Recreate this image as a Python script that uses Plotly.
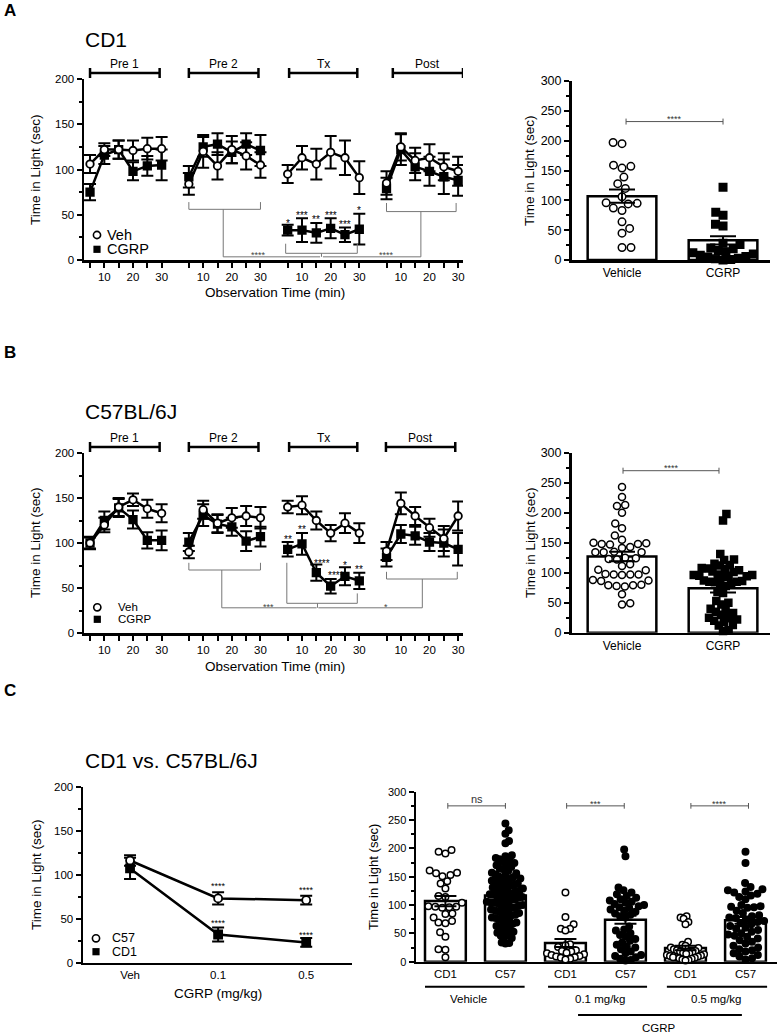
import math
import plotly.graph_objects as go

W, H = 777, 1034
FONT = "Liberation Sans, Arial, Helvetica, sans-serif"

# ------------------------------------------------------------------ data
MINUTES = [5, 10, 15, 20, 25, 30]
PHASES = ["Pre 1", "Pre 2", "Tx", "Post"]
TIME_TICKS = ["", "10", "", "20", "", "30"]

# Panel A  (CD1) - 4 phases x 6 time bins
A_VEH = [106, 122, 122, 121, 123, 123, 84, 120, 104, 122, 115, 105,
         95, 113, 106, 119, 113, 91, 85, 125, 110, 113, 103, 98]
A_VEH_SEM = [10, 7, 10, 11, 12, 13, 12, 18, 15, 15, 15, 14,
             10, 13, 17, 18, 19, 18, 13, 15, 14, 15, 15, 16]
A_CGRP = [75, 116, 122, 98, 104, 105, 92, 125, 128, 119, 128, 121,
          33, 33, 30, 35, 28, 34, 79, 122, 103, 98, 92, 88]
A_CGRP_SEM = [9, 10, 10, 10, 11, 17, 12, 11, 12, 12, 12, 17,
              6, 13, 11, 11, 8, 17, 12, 17, 15, 16, 19, 17]
A_TX_STARS = ["*", "***", "**", "***", "***", "*"]
A_TX_STAR_Y = [44, 52, 48, 52, 42, 58]

# Panel B  (C57BL/6J)
B_VEH = [100, 120, 140, 148, 138, 133, 90, 137, 122, 128, 130, 128,
         140, 142, 125, 111, 122, 111, 91, 144, 130, 117, 105, 130]
B_VEH_SEM = [6, 8, 10, 7, 10, 10, 7, 10, 10, 11, 11, 12,
             7, 10, 10, 9, 11, 11, 10, 12, 10, 10, 14, 16]
B_CGRP = [100, 125, 139, 126, 103, 103, 101, 131, 121, 118, 102, 107,
          93, 99, 67, 52, 63, 58, 84, 110, 108, 101, 100, 93]
B_CGRP_SEM = [7, 10, 10, 10, 9, 11, 10, 12, 10, 10, 11, 11,
              8, 12, 9, 8, 10, 9, 10, 10, 10, 10, 15, 18]
B_TX_STARS = ["**", "**", "****", "****", "*", "**"]
B_TX_STAR_Y = [107, 118, 81, 67, 78, 74]

# Panel C left (dose response)
DOSES = ["Veh", "0.1", "0.5"]
C57_DOSE = [116, 73, 71]
C57_DOSE_SEM = [6, 7, 5]
CD1_DOSE = [107, 32, 23]
CD1_DOSE_SEM = [12, 8, 5]
C57_DOSE_STARS = ["", "****", "****"]
C57_DOSE_STAR_Y = [0, 90, 86]
CD1_DOSE_STARS = ["", "****", "****"]
CD1_DOSE_STAR_Y = [0, 49, 35]

# Panel A right (per-animal Tx totals, CD1)
AR_GROUPS = ["Vehicle", "CGRP"]
AR_MEAN = [107, 33]
AR_SEM = [11, 7]
AR_VEH_PTS = [197, 195, 159, 154, 157, 139, 128, 120, 106, 95, 87, 83, 94,
              96, 64, 53, 45, 21, 21]
AR_CGRP_PTS = [122, 80, 75, 60, 57, 28, 26, 20, 19, 16, 14, 12, 10, 8, 6,
               5, 3, 2, 1, 0]

# Panel B right (C57BL/6J)
BR_GROUPS = ["Vehicle", "CGRP"]
BR_MEAN = [127, 74]
BR_SEM = [8, 7]
BR_VEH_PTS = [243, 226, 213, 211, 200, 182, 174, 162, 155, 150, 148, 147,
              148, 149, 143, 141, 135, 134, 134, 134, 125, 124, 123, 122,
              114, 111, 105, 104, 98, 97, 97, 96, 97, 88, 87, 86, 80, 79,
              78, 77, 79, 64, 47, 49]
BR_CGRP_PTS = [198, 187, 131, 122, 121, 115, 113, 112, 108, 107, 106, 104,
               102, 101, 97, 96, 96, 95, 95, 94, 93, 87, 86, 85, 85, 84, 82,
               80, 78, 68, 66, 53, 50, 47, 40, 38, 35, 33, 30, 25, 24, 22,
               20, 18, 13, 12, 4, 3]

# Panel C right (strain x dose)
CR_LABELS = ["CD1", "C57", "CD1", "C57", "CD1", "C57"]
CR_MEAN = [107, 117, 33, 74, 24, 73]
CR_SEM = [9, 4, 7, 7, 4, 6]
CR_CD1_VEH = [197, 194, 191, 161, 157, 156, 153, 151, 142, 138, 129, 116,
              114, 104, 98, 97, 97, 96, 95, 85, 84, 78, 72, 69, 68, 52, 44,
              22, 21, 8]
CR_C57_VEH = [244, 232, 226, 213, 209, 188, 186, 183, 181, 179, 176, 174,
              171, 170, 167, 164, 163, 160, 157, 156, 154, 152, 150, 149,
              147, 146, 144, 143, 141, 140, 138, 136, 135, 134, 132, 131,
              129, 128, 127, 125, 124, 123, 121, 120, 119, 118, 116, 115,
              114, 113, 111, 110, 109, 108, 106, 105, 104, 103, 101, 100,
              99, 98, 96, 95, 94, 92, 91, 89, 88, 86, 85, 83, 82, 80, 78,
              77, 75, 73, 71, 69, 67, 65, 63, 61, 59, 56, 53, 51, 48, 46,
              44, 42, 34, 33, 32]
CR_CD1_01 = [122, 79, 66, 58, 58, 55, 31, 29, 26, 20, 19, 18, 16, 15, 13,
             12, 10, 9, 8, 7, 5, 4]
CR_C57_01 = [198, 186, 131, 126, 122, 119, 116, 113, 110, 108, 106, 104,
             102, 100, 98, 96, 95, 92, 90, 88, 85, 83, 80, 78, 62, 57, 55,
             50, 47, 45, 40, 37, 34, 30, 27, 25, 22, 18, 15, 12, 10, 8, 5,
             3, 2]
CR_CD1_05 = [80, 78, 76, 70, 66, 35, 30, 28, 25, 24, 22, 20, 19, 18, 17,
             16, 15, 14, 13, 12, 11, 10, 9, 8, 8, 7, 6, 5, 4, 3, 2]
CR_C57_05 = [194, 174, 139, 132, 128, 126, 124, 122, 120, 117, 114, 110,
             100, 98, 97, 96, 95, 90, 86, 82, 80, 78, 77, 75, 72, 70, 68,
             66, 63, 60, 58, 56, 53, 50, 48, 46, 44, 41, 38, 35, 32, 28, 25,
             22, 20, 18, 15, 12, 9, 6, 4]
CR_SIG = ["ns", "***", "****"]

# ------------------------------------------------------------------ layout helpers
PHASE_GAP = 34.5   # spacing of phases on the time axis (minutes)


def tx(phase, minute):
    return phase * PHASE_GAP + minute


def PX(x):
    return x / W


def PY(y):
    return 1 - y / H


def dom_x(a, b):
    return [a / W, b / W]


def dom_y(top, bottom):
    return [1 - bottom / H, 1 - top / H]


def swarm(vals, px_per_y, px_per_x, d, limit):
    """Greedy beeswarm: returns x offsets (category units), squeezed to +-limit."""
    placed = []
    out = [0.0] * len(vals)
    order = sorted(range(len(vals)), key=lambda i: vals[i])
    flip = 1
    for i in order:
        y = vals[i] * px_per_y
        near = [(px, py) for px, py in placed if abs(py - y) < d]
        cands = [0.0]
        for px, py in near:
            dx = math.sqrt(max(d * d - (py - y) ** 2, 0))
            cands += [px - dx, px + dx]
        cands.sort(key=lambda c: (round(abs(c), 3), c * flip))
        flip = -flip
        for c in cands:
            if all((c - px) ** 2 + (py - y) ** 2 >= d * d - 1e-6 for px, py in near):
                out[i] = c / px_per_x
                placed.append((c, y))
                break
    m = max(abs(o) for o in out) or 1
    if m > limit:
        out = [o * limit / m for o in out]
    return out


fig = go.Figure()
shapes = []
anns = []

BLACK = "black"
GRAY = "#777777"


def ann(text, x, y, xref="paper", yref="paper", size=11, xanchor="center",
        yanchor="middle", color=BLACK, yshift=0, textangle=0, bold=False):
    if bold:
        text = "<b>" + text + "</b>"
    anns.append(dict(text=text, x=x, y=y, xref=xref, yref=yref, showarrow=False,
                     xanchor=xanchor, yanchor=yanchor, yshift=yshift,
                     textangle=textangle,
                     font=dict(family=FONT, size=size, color=color)))


def line(x0, y0, x1, y1, xref, yref, color=BLACK, width=1):
    shapes.append(dict(type="line", x0=x0, y0=y0, x1=x1, y1=y1, xref=xref,
                       yref=yref, line=dict(color=color, width=width)))


# ------------------------------------------------------------------ time-course panels
def time_panel(xa, ya, veh, veh_sem, cgrp, cgrp_sem):
    for vals in (veh, cgrp):
        xs, ys = [], []
        for p in range(4):
            for k, m in enumerate(MINUTES):
                xs.append(tx(p, m))
                ys.append(vals[p * 6 + k])
            xs.append(None)
            ys.append(None)
        fig.add_trace(go.Scatter(x=xs, y=ys, mode="lines", xaxis=xa, yaxis=ya,
                                 line=dict(color=BLACK, width=2.5),
                                 showlegend=False, hoverinfo="skip"))
    for vals, sem, sym, fill in [(cgrp, cgrp_sem, "square", "black"),
                                 (veh, veh_sem, "circle", "white")]:
        xs = [tx(p, m) for p in range(4) for m in MINUTES]
        fig.add_trace(go.Scatter(
            x=xs, y=vals, mode="markers", xaxis=xa, yaxis=ya, cliponaxis=False,
            marker=dict(symbol=sym, size=7.5, color=fill,
                        line=dict(color=BLACK, width=1.8)),
            error_y=dict(type="data", array=sem, color=BLACK, thickness=2,
                         width=6),
            showlegend=False, hoverinfo="skip"))


time_panel("x", "y", A_VEH, A_VEH_SEM, A_CGRP, A_CGRP_SEM)
time_panel("x2", "y2", B_VEH, B_VEH_SEM, B_CGRP, B_CGRP_SEM)

# phase header brackets
for xr, yr, hpx, spans in [
        ("x", "y domain", 181, [(5, 29.3), (5, 29.3), (5.5, 29.3), (7.2, 31.7)]),
        ("x2", "y2 domain", 180, [(5, 29.3), (5, 29.3), (5.5, 29.3), (4.8, 29.0)])]:
    yb = 1 + 6 / hpx
    cap = 5 / hpx
    for p, (s, e) in enumerate(spans):
        x0, x1 = tx(p, s), tx(p, e)
        line(x0, yb, x1, yb, xr, yr, BLACK, 2.5)
        line(x0, yb - cap, x0, yb + cap, xr, yr, BLACK, 2.5)
        line(x1, yb - cap, x1, yb + cap, xr, yr, BLACK, 2.5)
        ann(PHASES[p], (x0 + x1) / 2, 1 + 15 / hpx, xr, yr, size=12)

# stars above Tx CGRP points
for k in range(6):
    ann(A_TX_STARS[k], tx(2, MINUTES[k]), A_TX_STAR_Y[k], "x", "y", size=10, yshift=-3)
    ann(B_TX_STARS[k], tx(2, MINUTES[k]) + (2 if k in (2, 3) else 0),
        B_TX_STAR_Y[k], "x2", "y2", size=10, yshift=-3)

# comparison brackets, panel A
g = tx
for seg_ in [
        ((1, 5), 56, (1, 30), 56), ((1, 5), 56, (1, 5), 64), ((1, 30), 56, (1, 30), 64),
        ((1, 17), 56, (1, 17), 3.5), ((1, 17), 3.5, (2, 16.3), 3.5),
        ((2, 4.3), 7.4, (2, 29.3), 7.4), ((2, 4.3), 7.4, (2, 4.3), 18),
        ((2, 29.3), 7.4, (2, 29.3), 18), ((2, 16.8), 7.4, (2, 16.8), 3.5),
        ((3, 5), 53.5, (3, 29.3), 53.5), ((3, 5), 53.5, (3, 5), 63),
        ((3, 29.3), 53.5, (3, 29.3), 63), ((3, 17), 53.5, (3, 17), 3.5),
        ((2, 17.3), 3.5, (3, 17), 3.5)]:
    (p0, m0), y0, (p1, m1), y1 = seg_
    line(g(p0, m0), y0, g(p1, m1), y1, "x", "y", GRAY, 1)
ann("****", g(1, 29.3), 9, "x", "y", size=9, color="#444", yshift=-3)
ann("****", g(3, 5), 9, "x", "y", size=9, color="#444", yshift=-3)

# comparison brackets, panel B
for seg_ in [
        ((1, 5), 70, (1, 30), 70), ((1, 5), 70, (1, 5), 78), ((1, 30), 70, (1, 30), 78),
        ((1, 16.5), 70, (1, 16.5), 28), ((1, 16.5), 28, (2, 15.1), 28),
        ((2, 4.7), 33, (2, 29.3), 33), ((2, 4.7), 33, (2, 4.7), 78),
        ((2, 29.3), 33, (2, 29.3), 44), ((2, 15.4), 33, (2, 15.4), 28),
        ((3, 5), 60, (3, 29.7), 60), ((3, 5), 60, (3, 5), 68),
        ((3, 29.7), 60, (3, 29.7), 68), ((3, 17.5), 60, (3, 17.5), 28),
        ((2, 15.7), 28, (3, 17.5), 28)]:
    (p0, m0), y0, (p1, m1), y1 = seg_
    line(g(p0, m0), y0, g(p1, m1), y1, "x2", "y2", GRAY, 1)
ann("***", g(1, 32.8), 32, "x2", "y2", size=9, color="#444", yshift=-3)
ann("*", g(3, 4.9), 32, "x2", "y2", size=9, color="#444", yshift=-3)

# ------------------------------------------------------------------ dose panel (C left)
for vals, sem, sym, fill in [(CD1_DOSE, CD1_DOSE_SEM, "square", "black"),
                             (C57_DOSE, C57_DOSE_SEM, "circle", "white")]:
    fig.add_trace(go.Scatter(
        x=[0, 1, 2], y=vals, mode="lines+markers", xaxis="x3", yaxis="y3",
        cliponaxis=False, line=dict(color=BLACK, width=2.5),
        marker=dict(symbol=sym, size=8, color=fill, line=dict(color=BLACK, width=1.8)),
        error_y=dict(type="data", array=sem, color=BLACK, thickness=2, width=6),
        showlegend=False, hoverinfo="skip"))
for k in range(3):
    if C57_DOSE_STARS[k]:
        ann(C57_DOSE_STARS[k], k, C57_DOSE_STAR_Y[k], "x3", "y3", size=9, yshift=-3)
        ann(CD1_DOSE_STARS[k], k, CD1_DOSE_STAR_Y[k], "x3", "y3", size=9, yshift=-3)


# ------------------------------------------------------------------ scatter-bar panels
def bar_panel(xa, ya, means, sems, groups_pts, syms, fills, pxy, pxx, size, d,
              capw, barw, limit):
    n = len(means)
    fig.add_trace(go.Bar(x=list(range(n)), y=means, width=barw, xaxis=xa, yaxis=ya,
                         marker=dict(color="white", line=dict(color=BLACK, width=2.5)),
                         showlegend=False, hoverinfo="skip"))
    for i, pts in enumerate(groups_pts):
        offs = swarm(pts, pxy, pxx, d, limit)
        fig.add_trace(go.Scatter(
            x=[i + o for o in offs], y=pts, mode="markers", xaxis=xa, yaxis=ya,
            cliponaxis=False,
            marker=dict(symbol=syms[i], size=size, color=fills[i],
                        line=dict(color=BLACK, width=1.5)),
            showlegend=False, hoverinfo="skip"))
    fig.add_trace(go.Scatter(
        x=list(range(n)), y=means, mode="markers", xaxis=xa, yaxis=ya,
        marker=dict(size=1, color="rgba(0,0,0,0)"),
        error_y=dict(type="data", array=sems, color=BLACK, thickness=2, width=capw),
        showlegend=False, hoverinfo="skip"))


bar_panel("x4", "y4", AR_MEAN, AR_SEM, [AR_VEH_PTS, AR_CGRP_PTS],
          ["circle", "square"], ["white", "black"], 179 / 300, 101, 7.5, 9, 13,
          0.68, 0.3)
bar_panel("x5", "y5", BR_MEAN, BR_SEM, [BR_VEH_PTS, BR_CGRP_PTS],
          ["circle", "square"], ["white", "black"], 180 / 300, 101, 7, 8.3, 13,
          0.68, 0.29)
bar_panel("x6", "y6", CR_MEAN, CR_SEM,
          [CR_CD1_VEH, CR_C57_VEH, CR_CD1_01, CR_C57_01, CR_CD1_05, CR_C57_05],
          ["circle"] * 6, ["white", "black"] * 3, 170 / 300, 60, 6.5, 7.0, 11,
          0.68, 0.31)


def sig(xa, ya, x0, x1, y, text, ty, cap=5, size=9):
    line(x0, y, x1, y, xa, ya, "#555", 1)
    line(x0, y - cap, x0, y + cap, xa, ya, "#555", 1)
    line(x1, y - cap, x1, y + cap, xa, ya, "#555", 1)
    ann(text, (x0 + x1) / 2, ty, xa, ya, size=size, color="#333",
        yshift=-3 if "*" in text else 0)


sig("x4", "y4", 0.04, 1.0, 232, "****", 241)
sig("x5", "y5", 0.01, 0.96, 270, "****", 279)
sig("x6", "y6", 0.04, 1.0, 275, CR_SIG[0], 288, size=11)
sig("x6", "y6", 2.02, 2.98, 275, CR_SIG[1], 283)
sig("x6", "y6", 4.09, 5.05, 275, CR_SIG[2], 283)

# group labels under C right
for (a, b, ly, label, lx, tyy) in [
        (-0.34, 1.32, 986.7, "Vehicle", 0.38, 999),
        (1.71, 3.36, 986.7, "0.1 mg/kg", 2.59, 999),
        (3.69, 5.36, 986.7, "0.5 mg/kg", 4.52, 999),
        (2.21, 4.94, 1015, "CGRP", 3.56, 1027.5)]:
    line(a, PY(ly), b, PY(ly), "x6", "paper", BLACK, 2)
    ann(label, lx, PY(tyy), "x6", "paper", size=11.5)


# ------------------------------------------------------------------ legends (key glyphs)
def key(cx, cy, kind, text, tx_, size):
    r = 3.6
    if kind == "circle":
        shapes.append(dict(type="circle", xref="paper", yref="paper",
                           x0=PX(cx - r), x1=PX(cx + r), y0=PY(cy + r), y1=PY(cy - r),
                           line=dict(color=BLACK, width=1.6), fillcolor="white"))
    else:
        shapes.append(dict(type="rect", xref="paper", yref="paper",
                           x0=PX(cx - r), x1=PX(cx + r), y0=PY(cy + r), y1=PY(cy - r),
                           line=dict(color=BLACK, width=0), fillcolor=BLACK))
    ann(text, PX(tx_), PY(cy), size=size, xanchor="left")


key(97, 235, "circle", "Veh", 105, 14.5)
key(97, 249.3, "square", "CGRP", 105, 14.5)
key(97.3, 607.3, "circle", "Veh", 116, 11.5)
key(97.3, 619.3, "square", "CGRP", 116, 11.5)
key(96, 938.3, "circle", "C57", 110, 12.5)
key(96, 951.7, "square", "CD1", 110, 12.5)

# ------------------------------------------------------------------ titles & labels
ann("A", PX(2), PY(11), size=17, xanchor="left", bold=True)
ann("B", PX(2), PY(352), size=17, xanchor="left", bold=True)
ann("C", PX(2), PY(690), size=17, xanchor="left", bold=True)
ann("CD1", PX(83), PY(40), size=21, xanchor="left")
ann("C57BL/6J", PX(83), PY(411), size=21, xanchor="left")
ann("CD1 vs. C57BL/6J", PX(83), PY(760), size=21, xanchor="left")

ann("Time in Light (sec)", PX(35), PY(170), size=13.5, textangle=-90)
ann("Time in Light (sec)", PX(35), PY(543), size=13.5, textangle=-90)
ann("Time in Light (sec)", PX(36), PY(875), size=13.5, textangle=-90)
ann("Time in Light (sec)", PX(530), PY(171), size=13.5, textangle=-90)
ann("Time in Light (sec)", PX(530), PY(543), size=13.5, textangle=-90)
ann("Time in Light (sec)", PX(373), PY(877), size=13, textangle=-90)
ann("Observation Time (min)", PX(274.5), PY(292), size=13.5)
ann("Observation Time (min)", PX(274.5), PY(666.5), size=13.5)
ann("CGRP (mg/kg)", PX(217.5), PY(993), size=13.5)


# ------------------------------------------------------------------ axes
def yax(top, bottom, rng, dtick, minor, fsize, anchor):
    return dict(domain=dom_y(top, bottom), range=rng, anchor=anchor,
                showline=True, linecolor=BLACK, linewidth=2.5, ticks="outside",
                ticklen=5, tickwidth=2, tickcolor=BLACK, tick0=0, dtick=dtick,
                minor=dict(dtick=minor, tick0=0, ticks="outside", ticklen=3,
                           tickwidth=2, tickcolor=BLACK),
                showgrid=False, zeroline=False, fixedrange=True, automargin=False,
                tickfont=dict(family=FONT, size=fsize, color=BLACK))


def xax(a, b, rng, anchor, tickvals, ticktext, fsize, ticks=""):
    return dict(domain=dom_x(a, b), range=rng, anchor=anchor, showline=True,
                linecolor=BLACK, linewidth=2.5, ticks=ticks, ticklen=5,
                tickwidth=2, tickcolor=BLACK, tickmode="array",
                tickvals=tickvals, ticktext=ticktext, showgrid=False,
                zeroline=False, fixedrange=True, automargin=False,
                tickfont=dict(family=FONT, size=fsize, color=BLACK))


time_vals = [tx(p, m) for p in range(4) for m in MINUTES]
time_text = TIME_TICKS * 4
TRANGE = [2.9, 135.2]

fig.update_layout(
    width=W, height=H, margin=dict(l=0, r=0, t=0, b=0, pad=0), autosize=False,
    paper_bgcolor="white", plot_bgcolor="white", showlegend=False,
    hovermode=False,
    xaxis=xax(84, 463, TRANGE, "y", time_vals, time_text, 11.5, "outside"),
    yaxis=yax(79, 260, [0, 200], 50, 25, 11.5, "x"),
    xaxis2=xax(84, 463, TRANGE, "y2", time_vals, time_text, 11.5, "outside"),
    yaxis2=yax(453, 633, [0, 200], 50, 25, 11.5, "x2"),
    xaxis3=xax(83, 352, [-0.534, 2.52], "y3", [0, 1, 2], DOSES, 11.5),
    yaxis3=yax(786.5, 962.7, [0, 200], 50, 25, 11.5, "x3"),
    xaxis4=xax(571.5, 770, [-0.5, 1.465], "y4", [0, 1], AR_GROUPS, 12),
    yaxis4=yax(81, 260, [0, 300], 50, 25, 12.5, "x4"),
    xaxis5=xax(571.5, 770, [-0.5, 1.465], "y5", [0, 1], BR_GROUPS, 12),
    yaxis5=yax(452.7, 632.7, [0, 300], 50, 25, 12.5, "x5"),
    xaxis6=xax(416, 777, [-0.49, 5.525], "y6", list(range(6)), CR_LABELS, 11.5),
    yaxis6=yax(791.7, 961.7, [0, 300], 50, 25, 11, "x6"),
    shapes=shapes, annotations=anns,
)

# remove the browser's default 8px page margin so the figure sits at the top-left corner
fig.write_html("out.html", config={"displayModeBar": False, "staticPlot": True},
               post_script="document.body.style.margin='0px';"
                           "document.body.style.overflow='hidden';")
